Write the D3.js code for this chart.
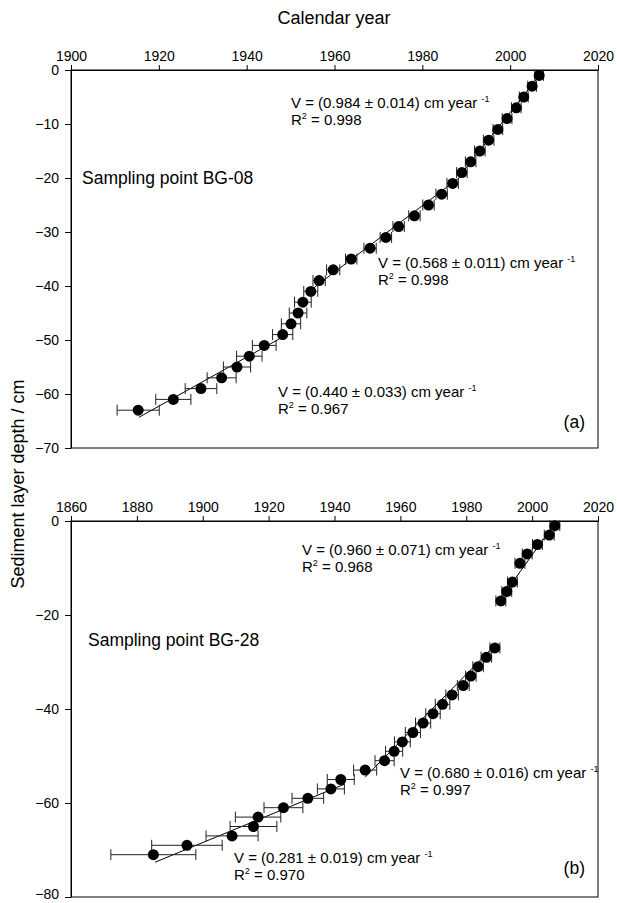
<!DOCTYPE html>
<html>
<head>
<meta charset="utf-8">
<script src="https://cdn.jsdelivr.net/npm/d3@7"></script>
<style>
  body { margin: 0; background: #fff; }
  text { font-family: "Liberation Sans", Arial, sans-serif; fill: #000; }
</style>
</head>
<body>
<div id="chart"></div>
<script>
// ---- data ----
// panel (a) BG-08
var depthA = [-1, -3, -5, -7, -9, -11, -13, -15, -17, -19, -21, -23, -25, -27, -29, -31,
              -33, -35, -37, -39, -41, -43, -45, -47, -49, -51, -53, -55, -57, -59, -61, -63];
var yearA = [2006.6, 2005.0, 2003.1, 2001.4, 1999.3, 1997.2, 1995.1, 1993.1, 1991.0, 1989.0,
             1986.9, 1984.4, 1981.4, 1978.2, 1974.6, 1971.7, 1968.1, 1963.8, 1959.7, 1956.5,
             1954.6, 1952.8, 1951.7, 1950.1, 1948.2, 1944.0, 1940.6, 1937.8, 1934.3, 1929.6,
             1923.3, 1915.3];
var errA = [1.0, 1.0, 1.0, 1.1, 1.1, 1.1, 1.2, 1.2, 1.2, 1.2, 1.3, 1.3, 1.3, 1.3, 1.3, 1.3,
            1.4, 1.3, 1.5, 1.4, 1.6, 1.9, 2.0, 2.2, 2.3, 2.7, 2.9, 3.1, 3.3, 3.6, 4.0, 4.8];
// fitted segments [year, depth] start and end
var fitA = [
  [[2007.2, -0.5], [1988.5, -19.6]],
  [[1989.0, -19.6], [1955.0, -40.5]],
  [[1948.3, -49.4], [1915.5, -64.3]]
];
var labelsA = [
  ["0.984 ± 0.014", "0.998"],
  ["0.568 ± 0.011", "0.998"],
  ["0.440 ± 0.033", "0.967"]
];

// panel (b) BG-28
var depthB = [-1, -3, -5, -7, -9, -13, -15, -17, -27, -29, -31, -33, -35, -37, -39, -41,
              -43, -45, -47, -49, -51, -53, -55, -57, -59, -61, -63, -65, -67, -69, -71];
var yearB = [2006.9, 2005.2, 2001.6, 1998.5, 1996.3, 1994.0, 1992.3, 1990.5, 1988.7, 1986.1,
             1983.6, 1981.4, 1979.1, 1975.7, 1972.8, 1969.9, 1966.9, 1963.8, 1960.6, 1958.1,
             1955.2, 1949.3, 1941.9, 1938.9, 1931.9, 1924.5, 1916.8, 1915.4, 1908.9, 1895.2,
             1885.0];
var errB = [1.5, 1.5, 1.5, 1.5, 1.5, 1.5, 1.5, 1.5, 1.5, 1.6, 1.6, 1.6, 1.8, 1.9, 2.2, 2.2,
            2.3, 2.3, 2.4, 2.6, 2.9, 3.5, 4.1, 4.1, 4.8, 5.9, 6.9, 7.1, 7.9, 10.7, 12.9];
var fitB = [
  [[2006.8, -0.6], [1990.5, -16.5]],
  [[1988.6, -26.5], [1949.3, -54.5]],
  [[1943.0, -56.0], [1885.5, -72.6]]
];
var labelsB = [
  ["0.960 ± 0.071", "0.968"],
  ["0.680 ± 0.016", "0.997"],
  ["0.281 ± 0.019", "0.970"]
];

var ticksXA = d3.range(1900, 2021, 20);
var ticksYA = d3.range(0, -71, -10);
var ticksXB = d3.range(1860, 2021, 20);
var ticksYB = d3.range(0, -81, -20);

// ---- svg ----
var svgWidth = 617;
var svgHeight = 903;

var svg = d3.select("#chart")
  .append("svg")
  .attr("width", svgWidth)
  .attr("height", svgHeight);

// draw one panel
function drawPanel(opt) {
  var x = d3.scaleLinear().domain(opt.xDomain).range([71, 598]);
  var y = d3.scaleLinear().domain(opt.yDomain).range([opt.top, opt.bottom]);

  var g = svg.append("g");

  // frame
  g.append("rect")
    .attr("x", 71)
    .attr("y", opt.top)
    .attr("width", 527)
    .attr("height", opt.bottom - opt.top)
    .attr("fill", "none")
    .attr("stroke", "#000")
    .attr("stroke-width", 1);

  // top axis
  var xAxis = d3.axisTop(x).tickValues(opt.xTicks).tickFormat(d3.format("d"))
    .tickSize(5).tickSizeOuter(0).tickPadding(4);
  var gx = g.append("g")
    .attr("transform", `translate(0, ${opt.top})`)
    .call(xAxis);

  // left axis
  var yAxis = d3.axisLeft(y).tickValues(opt.yTicks).tickFormat(d3.format("d"))
    .tickSize(6).tickSizeOuter(0).tickPadding(6);
  var gy = g.append("g")
    .attr("transform", "translate(71, 0)")
    .call(yAxis);

  [gx, gy].forEach(function(a) {
    a.select(".domain").attr("stroke", "#000");
    a.selectAll(".tick line").attr("stroke", "#000");
    a.selectAll(".tick text")
      .attr("font-family", "'Liberation Sans', Arial, sans-serif")
      .attr("font-size", 14)
      .attr("fill", "#000");
  });

  // keep the lowest label inside the page
  gy.selectAll(".tick text")
    .filter(d => y(d) > 893)
    .attr("dy", "0.1em");

  var pts = opt.years.map(function(yr, i) {
    return { year: yr, depth: opt.depths[i], err: opt.errs[i] };
  });

  // fitted lines
  g.selectAll(".fit")
    .data(opt.fits)
    .enter()
    .append("line")
    .attr("x1", d => x(d[0][0]))
    .attr("y1", d => y(d[0][1]))
    .attr("x2", d => x(d[1][0]))
    .attr("y2", d => y(d[1][1]))
    .attr("stroke", "#000")
    .attr("stroke-width", 1);

  // error bars
  var eb = g.selectAll(".err")
    .data(pts)
    .enter()
    .append("g");
  eb.append("line")
    .attr("x1", d => x(d.year - d.err))
    .attr("x2", d => x(d.year + d.err))
    .attr("y1", d => y(d.depth))
    .attr("y2", d => y(d.depth))
    .attr("stroke", "#222")
    .attr("stroke-width", 1);
  eb.append("line")
    .attr("x1", d => x(d.year - d.err))
    .attr("x2", d => x(d.year - d.err))
    .attr("y1", d => y(d.depth) - 5.5)
    .attr("y2", d => y(d.depth) + 5.5)
    .attr("stroke", "#222")
    .attr("stroke-width", 1);
  eb.append("line")
    .attr("x1", d => x(d.year + d.err))
    .attr("x2", d => x(d.year + d.err))
    .attr("y1", d => y(d.depth) - 5.5)
    .attr("y2", d => y(d.depth) + 5.5)
    .attr("stroke", "#222")
    .attr("stroke-width", 1);

  // points
  g.selectAll(".pt")
    .data(pts)
    .enter()
    .append("circle")
    .attr("cx", d => x(d.year))
    .attr("cy", d => y(d.depth))
    .attr("r", 5.5)
    .attr("fill", "#000");

  // annotations
  opt.labels.forEach(function(lab, i) {
    var p = opt.labelPos[i];
    var t1 = g.append("text")
      .attr("x", p[0])
      .attr("y", p[1])
      .attr("font-size", 15);
    t1.append("tspan").text("V = (" + lab[0] + ") cm year ");
    t1.append("tspan").attr("dy", -6).attr("font-size", 9).text("-1");

    var t2 = g.append("text")
      .attr("x", p[0])
      .attr("y", p[1] + 17)
      .attr("font-size", 15);
    t2.append("tspan").text("R");
    t2.append("tspan").attr("dy", -6).attr("font-size", 9).text("2");
    t2.append("tspan").attr("dy", 6).text(" = " + lab[1]);
  });

  g.append("text")
    .attr("x", opt.namePos[0])
    .attr("y", opt.namePos[1])
    .attr("font-size", 17.5)
    .text(opt.name);

  g.append("text")
    .attr("x", 585)
    .attr("y", opt.tagY)
    .attr("text-anchor", "end")
    .attr("font-size", 17.5)
    .text(opt.tag);
}

drawPanel({
  top: 70, bottom: 448,
  xDomain: [1900, 2020], yDomain: [0, -70],
  xTicks: ticksXA, yTicks: ticksYA,
  years: yearA, depths: depthA, errs: errA, fits: fitA,
  labels: labelsA,
  labelPos: [[291, 108], [378, 268], [278, 397]],
  name: "Sampling point BG-08", namePos: [82, 184],
  tag: "(a)", tagY: 428
});

drawPanel({
  top: 521, bottom: 897,
  xDomain: [1860, 2020], yDomain: [0, -80],
  xTicks: ticksXB, yTicks: ticksYB,
  years: yearB, depths: depthB, errs: errB, fits: fitB,
  labels: labelsB,
  labelPos: [[302, 555], [400, 778], [234, 863]],
  name: "Sampling point BG-28", namePos: [88, 646],
  tag: "(b)", tagY: 874
});

// x-axis title
svg.append("text")
  .attr("x", 334)
  .attr("y", 24)
  .attr("text-anchor", "middle")
  .attr("font-size", 18)
  .text("Calendar year");

// y-axis title
svg.append("text")
  .attr("transform", "translate(24, 484) rotate(-90)")
  .attr("text-anchor", "middle")
  .attr("font-size", 18)
  .text("Sediment layer depth / cm");
</script>
</body>
</html>
